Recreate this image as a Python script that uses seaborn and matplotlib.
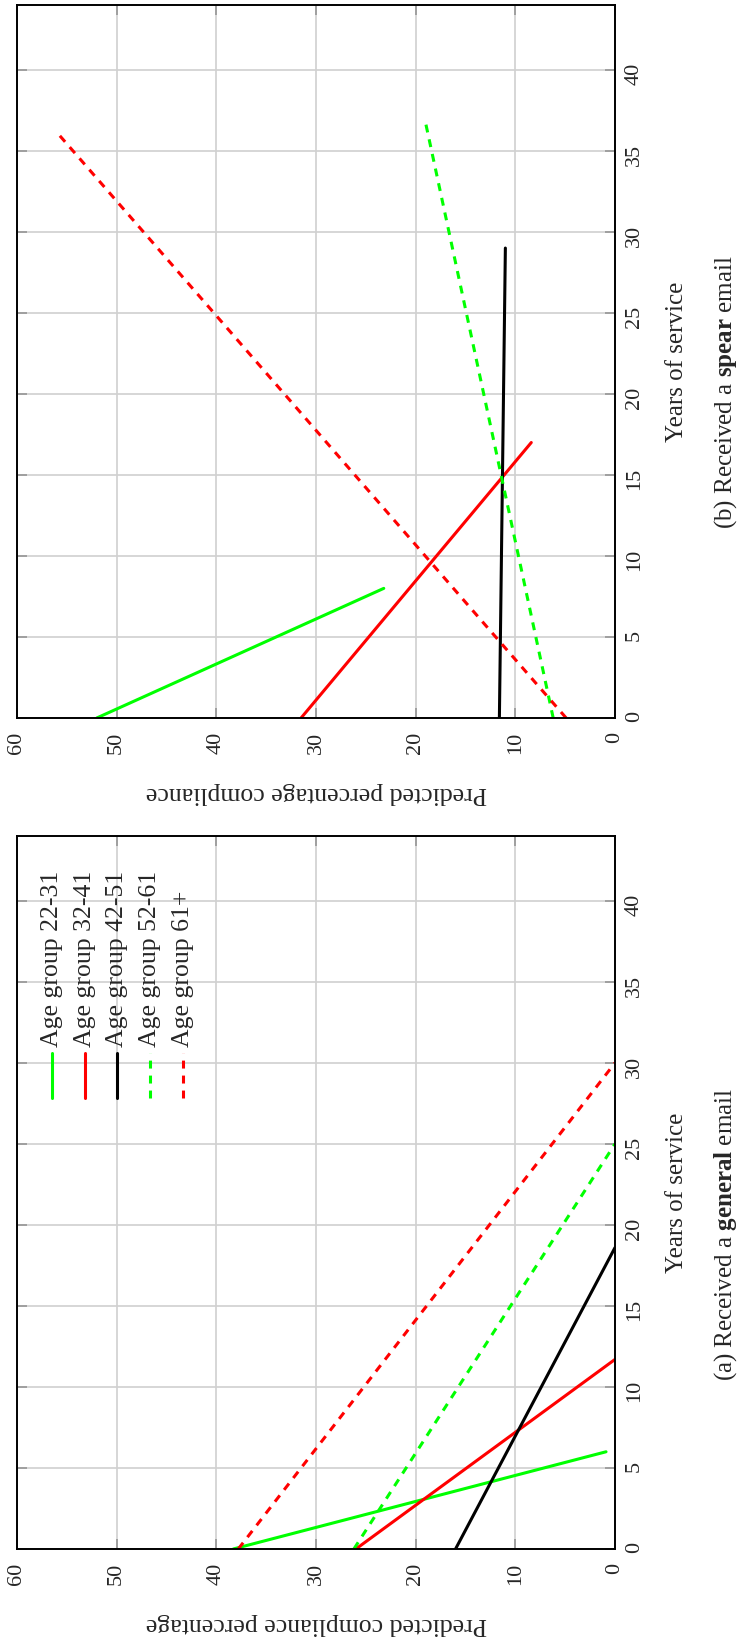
import matplotlib
matplotlib.use("Agg")
import matplotlib.pyplot as plt
import seaborn as sns
import pandas as pd

# groups and styles
groups = ["Age group 22-31", "Age group 32-41", "Age group 42-51",
          "Age group 52-61", "Age group 61+"]
colors = ["#00ff00", "#ff0000", "#000000", "#00ff00", "#ff0000"]
dashed = [False, False, False, True, True]

# end points of each fitted line: years of service / predicted compliance
general_years = [[0, 6.0], [0, 11.7], [0, 18.6], [0, 25.0], [0, 30.0]]
general_comp = [[38.3, 0.9], [26.0, 0.0], [16.0, 0.0], [26.2, 0.0], [37.8, 0.0]]
spear_years = [[0, 8.0], [0, 17.0], [0, 29.0], [0, 37.0], [0, 36.0]]
spear_comp = [[52.0, 23.2], [31.5, 8.4], [11.6, 11.0], [6.2, 19.1], [4.9, 55.8]]

year_ticks = [0, 5, 10, 15, 20, 25, 30, 35, 40]
comp_ticks = [0, 10, 20, 30, 40, 50, 60]

sns.set_theme(style="white")
plt.rcParams["font.family"] = ["Liberation Serif", "DejaVu Serif"]
plt.rcParams["mathtext.fontset"] = "custom"
plt.rcParams["mathtext.rm"] = "Liberation Serif"
plt.rcParams["mathtext.bf"] = "Liberation Serif:bold"

fig = plt.figure(figsize=(7.4, 16.42), dpi=100)
ax_b = fig.add_axes([17 / 740, 1 - 718 / 1642, 598 / 740, 713 / 1642])
ax_a = fig.add_axes([17 / 740, 1 - 1549 / 1642, 598 / 740, 713 / 1642])

palette = dict(zip(groups, colors))
dash_map = {g: ((2.6, 2.3) if d else "") for g, d in zip(groups, dashed)}


def make_frame(years, comp):
    rows = []
    for g, ys, cs in zip(groups, years, comp):
        for y, c in zip(ys, cs):
            rows.append({"group": g, "years": y, "comp": c})
    return pd.DataFrame(rows)


def draw_panel(ax, years, comp, xlabel, caption, caption_y):
    df = make_frame(years, comp)
    sns.lineplot(data=df, x="comp", y="years", hue="group", style="group",
                 palette=palette, dashes=dash_map, orient="y", sort=False,
                 estimator=None, legend=False, linewidth=2.2, ax=ax)
    ax.set_xlim(60, 0)
    ax.set_ylim(0, 44)
    ax.set_xticks(comp_ticks)
    ax.set_yticks(year_ticks)
    ax.set_axisbelow(True)
    ax.grid(True, color="#d0d0d0", linewidth=1.2)
    for sp in ax.spines.values():
        sp.set_color("black")
        sp.set_linewidth(1.4)
    ax.tick_params(direction="in", length=7, width=1.1, color="#909090",
                   top=True, right=True, left=True, bottom=True,
                   labelleft=False, labelright=True, labelsize=16)
    ax.tick_params(axis="x", labelrotation=90, pad=10)
    ax.tick_params(axis="y", labelrotation=90, pad=7)

    ax.set_xlabel(xlabel, rotation=180, fontsize=18.5)
    ax.xaxis.set_label_coords(0.5, -0.105)
    ax.xaxis.label.set_va("center")
    ax.xaxis.label.set_ha("center")

    ax.yaxis.set_label_position("right")
    ax.set_ylabel("Years of service", rotation=90, fontsize=18)
    ax.yaxis.label.set_rotation_mode("default")
    ax.yaxis.label.set_va("center")
    ax.yaxis.label.set_ha("center")
    ax.yaxis.set_label_coords(1.1037, 0.5)

    fig.text(726 / 740, caption_y, caption, rotation=90, ha="center",
             va="center", fontsize=18)


draw_panel(ax_b, spear_years, spear_comp, "Predicted percentage compliance",
           r"(b) Received a $\mathbf{spear}$ email", 1 - 392 / 1642)
draw_panel(ax_a, general_years, general_comp, "Predicted compliance percentage",
           r"(a) Received a $\mathbf{general}$ email", 1 - 1234 / 1642)

# legend drawn by hand, rotated like the rest of the figure
for i, (g, c, d) in enumerate(zip(groups, colors, dashed)):
    lx = 0.058 + i * 0.055
    ax_a.plot([lx, lx], [0.6325, 0.6957], transform=ax_a.transAxes,
              color=c, linewidth=2.2, linestyle=(0, (2.6, 2.3)) if d else "-",
              clip_on=False)
    ax_a.text(lx, 0.704, g, transform=ax_a.transAxes, rotation=90,
              ha="center", va="bottom", fontsize=18.5)

fig.savefig("out.png", dpi=100)
